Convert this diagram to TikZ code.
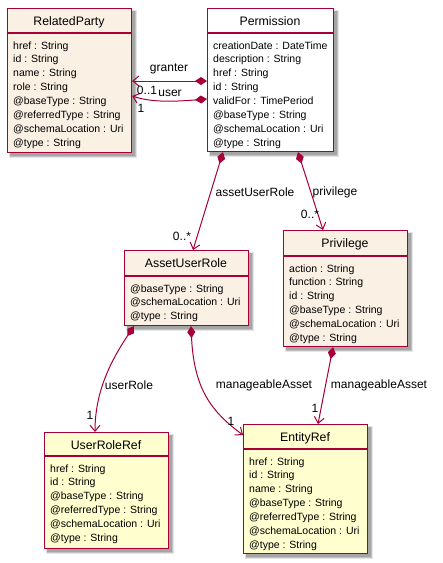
\documentclass[tikz,border=0pt]{standalone}
\usepackage{fontspec}
\setmainfont{Liberation Sans}
\usetikzlibrary{arrows.meta,calc}
\definecolor{umlborder}{HTML}{A80036}
\definecolor{umlpeach}{HTML}{FBF0E4}
\definecolor{umlyellow}{HTML}{FEFECE}
\tikzset{
  classbox/.style={draw=umlborder, line width=1.1pt, inner sep=0pt, rectangle},
  titletext/.style={inner sep=0pt, font=\fontsize{12.3}{14}\selectfont},
  attrtext/.style={inner sep=0pt, font=\fontsize{10.5}{13}\selectfont},
  assoc/.style={draw=umlborder, line width=1pt, {Diamond[length=12pt,width=8pt]}-{Straight Barb[length=6pt,width=10pt]}},
  lbl/.style={inner sep=0pt, font=\fontsize{12}{14}\selectfont},
}
\newcommand{\umlclass}[9]{%
  \fill[black, opacity=0.10] ({#2+2},{#3+2}) rectangle ({#4+6},{#5+6});
  \fill[black, opacity=0.15] ({#2+3},{#3+3}) rectangle ({#4+5},{#5+5});
  \fill[black, opacity=0.15] ({#2+3},{#3+3}) rectangle ({#4+4},{#5+4});
  \node[classbox, fill=#8, minimum width={#4-#2}, minimum height={#5-#3}, anchor=north west] (#1) at (#2,#3) {};
  \draw[umlborder, line width=1.1pt] (#2,#6) -- (#4,#6);
  \node[titletext, anchor=base] (#1-t) at ({(#2+#4)/2},{#3+17.5}) {#7};
  \foreach \a [count=\i] in {#9} {
    \node[attrtext, anchor=base west] (#1-a\i) at ({#2+6},{#6+2.1+13.9*\i}) {\a};
  }
}
\begin{document}
\begin{tikzpicture}[x=1pt,y=-1pt]
\useasboundingbox (0,0) rectangle (443,563);
\fill[white] (0,0) rectangle (443,563);

\umlclass{rp}{7}{8}{131}{152}{33}{RelatedParty}{umlpeach}{href : String, id : String, name : String, role : String, @baseType : String, @referredType : String, @schemaLocation : Uri, @type : String}
\umlclass{perm}{207}{8}{333}{151}{33}{Permission}{white}{creationDate : DateTime, description : String, href : String, id : String, validFor : TimePeriod, @baseType : String, @schemaLocation : Uri, @type : String}
\umlclass{aur}{124}{250}{248}{325}{276}{AssetUserRole}{umlpeach}{@baseType : String, @schemaLocation : Uri, @type : String}
\umlclass{priv}{283}{230}{407}{346}{256}{Privilege}{umlpeach}{action : String, function : String, id : String, @baseType : String, @schemaLocation : Uri, @type : String}
\umlclass{urr}{44}{432}{168}{548}{456}{UserRoleRef}{umlyellow}{href : String, id : String, @baseType : String, @referredType : String, @schemaLocation : Uri, @type : String}
\umlclass{ent}{243}{424}{367}{553}{449}{EntityRef}{umlyellow}{href : String, id : String, name : String, @baseType : String, @referredType : String, @schemaLocation : Uri, @type : String}

% connectors
\draw[assoc] ($(perm.north west)+(0,73)$) -- ($(rp.north east)+(0,73)$);
\draw[assoc] ($(perm.north west)+(0,91)$) .. controls (170,102) and (150,102) .. ($(rp.north east)+(0,88)$);
\draw[assoc] ($(perm.south west)+(16,0)$) -- ($(aur.north west)+(69,0)$);
\draw[assoc] ($(perm.south west)+(91,0)$) -- ($(priv.north west)+(40,0)$);
\draw[assoc] ($(aur.south west)+(10,0)$) .. controls (108,365) and (95,395) .. ($(urr.north west)+(51,0)$);
\draw[assoc] ($(aur.south west)+(67,0)$) .. controls (194,390) and (212,412) .. ($(ent.north west)+(0,11)$);
\draw[assoc] ($(priv.south west)+(50,0)$) -- ($(ent.north west)+(75,0)$);

% labels
\node[lbl] (l-granter) at (169,69) {granter};
\node[lbl] (l-g01) at (147,90) {0..1};
\node[lbl] (l-user) at (170,93) {user};
\node[lbl] (l-u1) at (141,108) {1};
\node[lbl] (l-aur) at (255,192) {assetUserRole};
\node[lbl] (l-aurm) at (182,236) {0..*};
\node[lbl] (l-priv) at (335,192) {privilege};
\node[lbl] (l-privm) at (310,214) {0..*};
\node[lbl] (l-ur) at (129,385) {userRole};
\node[lbl] (l-urm) at (90,415) {1};
\node[lbl] (l-ma1) at (264,385) {manageableAsset};
\node[lbl] (l-ma1m) at (231,421) {1};
\node[lbl] (l-ma2) at (379,385) {manageableAsset};
\node[lbl] (l-ma2m) at (315,408) {1};
\end{tikzpicture}
\end{document}
